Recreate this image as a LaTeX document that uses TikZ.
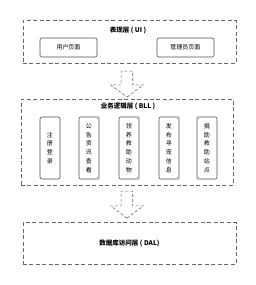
\documentclass[tikz,border=0pt]{standalone}
\usepackage{fontspec}
\setmainfont{Noto Sans CJK SC}
\usetikzlibrary{shapes.arrows, positioning}

\begin{document}
\begin{tikzpicture}[x=1pt, y=-1pt,
        layer/.style={draw=gray!80!black, dashed, dash pattern=on 4pt off 2.5pt, line width=0.7pt, minimum width=213pt, minimum height=43pt},
        page/.style={draw=gray!60!black, rounded corners=2pt, line width=0.6pt, minimum width=57pt, minimum height=19pt, font=\fontsize{6}{7}\selectfont},
        func/.style={draw=gray!60!black, rounded corners=2pt, line width=0.6pt, minimum width=20pt, minimum height=62pt, inner sep=0pt, align=center, font=\fontsize{6}{8.8}\selectfont},
        title/.style={font=\fontsize{6.5}{7}\selectfont\bfseries},
        flow/.style={draw=gray!80!black, dash pattern=on 3pt off 2pt, line width=0.6pt, single arrow, shape border rotate=270, minimum height=26pt, minimum width=32pt, inner sep=5.5pt, single arrow head extend=10.5pt, single arrow tip angle=106}
    ]
        \useasboundingbox (0,0) rectangle (256,285);

        % === UI layer ===
        \node[layer] (ui) at (129.5, 41.5) {};
        \node[title] (uit) at (128, 30) {表现层 ( UI )};
        \node[page] (user) at (68.5, 47.5) {用户页面};
        \node[page] (admin) at (185.5, 47.5) {管理员页面};

        % === BLL layer ===
        \node[layer, minimum width=212pt, minimum height=86pt] (bll) at (127, 142) {};
        \node[title] (bllt) at (128, 106) {业务逻辑层 ( BLL )};
        \node[func] (f1) at (50, 148) {注\\册\\登\\录};
        \node[func] (f2) at (89, 148) {公\\告\\资\\讯\\查\\看};
        \node[func] (f3) at (129, 148) {领\\养\\救\\助\\动\\物};
        \node[func] (f4) at (169, 148) {发\\布\\寻\\宠\\信\\息};
        \node[func] (f5) at (207, 148) {捐\\助\\救\\助\\站\\点};

        % === DAL layer ===
        \node[layer, minimum height=42pt] (dal) at (129.5, 243) {};
        \node[title] (dalt) at (129.5, 243) {数据库访问层 ( DAL)};

        % Flow arrows between layers
        \node[flow] (a1) at (127, 82) {};
        \node[flow, minimum height=27pt] (a2) at (127, 202.5) {};

    \end{tikzpicture}
\end{document}
